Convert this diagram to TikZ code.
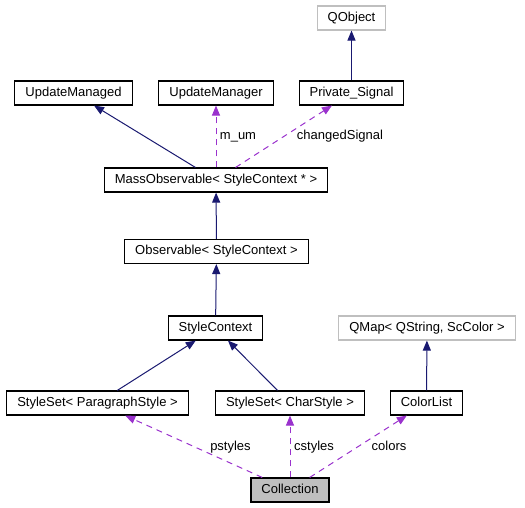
\documentclass[tikz,border=0pt]{standalone}
\usepackage{fontspec}
\setmainfont{Liberation Sans}
\usetikzlibrary{arrows.meta}
\definecolor{EdgeBlue}{HTML}{191970}
\definecolor{UseOrchid}{HTML}{9A32CD}
\definecolor{ExtGray}{HTML}{BFBFBF}

\begin{document}
\begin{tikzpicture}[x=1pt, y=-1pt,
    every node/.style={font=\fontsize{13}{15}\selectfont},
    cls/.style={draw=black, line width=1.1pt, fill=white, minimum height=24pt,
      inner xsep=10.5pt, inner ysep=0pt, text height=9.5pt, text depth=3pt},
    ext/.style={cls, draw=ExtGray},
    inherit/.style={draw=EdgeBlue, line width=1pt,
      -{Triangle[length=10pt, width=8pt]}},
    uses/.style={draw=UseOrchid, line width=1pt, dash pattern=on 6pt off 5pt,
      -{Triangle[length=10pt, width=8pt]}},
    lbl/.style={inner sep=0pt, text height=9.5pt, text depth=3pt}]
  \useasboundingbox (0,0) rectangle (525,508);

  % top rows
  \node[ext] (qobject) at (351.5,18) {QObject};
  \node[cls] (managed) at (73.5,93) {UpdateManaged};
  \node[cls] (manager) at (216,93) {UpdateManager};
  \node[cls] (signal) at (351.5,93) {Private\_Signal};
  \node[cls] (mass) at (216,180) {MassObservable< StyleContext * >};
  \node[cls] (observable) at (216.5,251.5) {Observable< StyleContext >};
  \node[cls] (context) at (215.5,328) {StyleContext};
  \node[ext] (qmap) at (427,328) {QMap< QString, ScColor >};

  % style sets
  \node[cls] (pset) at (97.5,403) {StyleSet< ParagraphStyle >};
  \node[cls] (cset) at (290,403) {StyleSet< CharStyle >};
  \node[cls] (colorlist) at (426.5,403) {ColorList};
  \node[cls, fill=ExtGray] (collection) at (290,490) {Collection};

  % inheritance
  \draw[inherit] (signal) -- (qobject);
  \draw[inherit] (mass) -- (managed);
  \draw[inherit] (observable) -- (mass);
  \draw[inherit] (context) -- (observable);
  \draw[inherit] (pset) -- (context);
  \draw[inherit] (cset) -- (context);
  \draw[inherit] (colorlist) -- (qmap);

  % members
  \draw[uses] (mass) -- (manager);
  \draw[uses] (mass) -- (signal);
  \draw[uses] (collection) -- (pset);
  \draw[uses] (collection) -- (cset);
  \draw[uses] (collection) -- (colorlist);
  \node[lbl] (umlbl) at (238,136) {m\_um};
  \node[lbl] (siglbl) at (340,136) {changedSignal};
  \node[lbl] (plbl) at (230.5,447) {pstyles};
  \node[lbl] (clbl) at (314,447) {cstyles};
  \node[lbl] (collbl) at (389,447) {colors};
\end{tikzpicture}
\end{document}
